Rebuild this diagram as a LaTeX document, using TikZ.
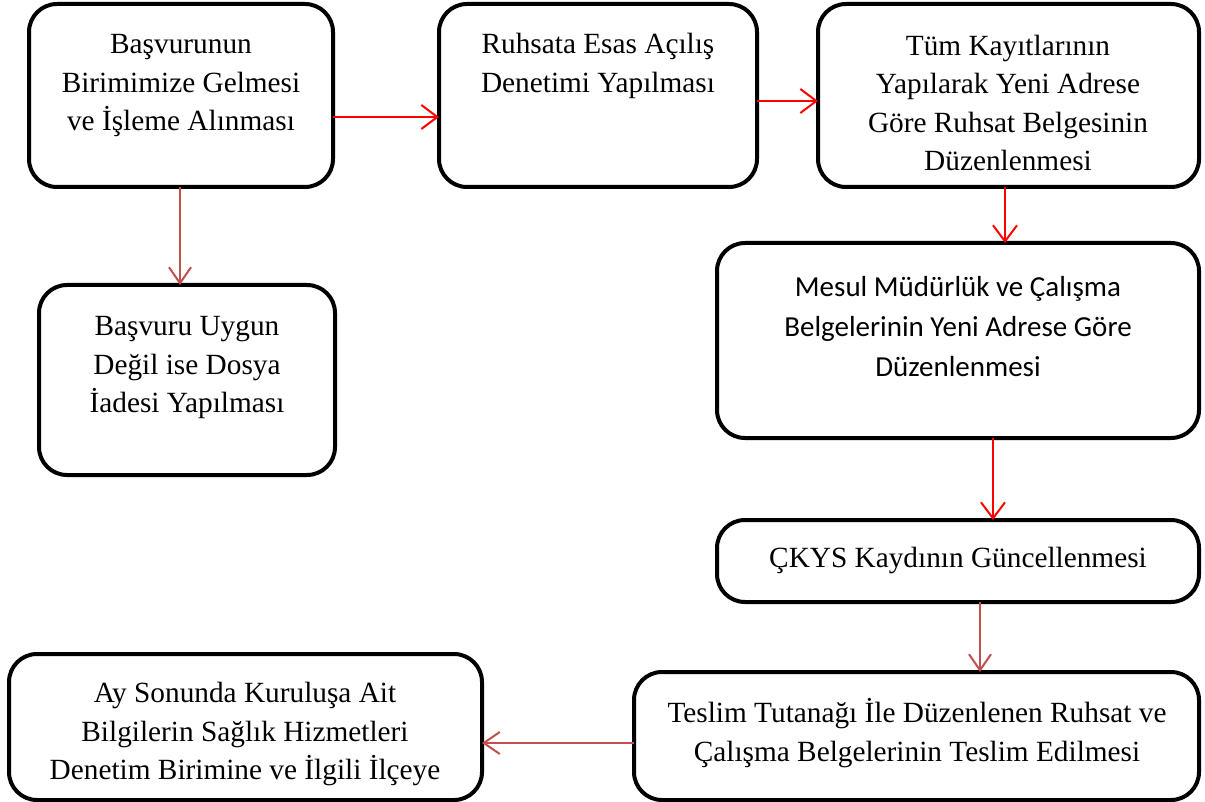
\documentclass[tikz,border=0pt]{standalone}
\usepackage{fontspec}
\setmainfont{Liberation Serif}
\newfontfamily\calibrifont{Carlito}
\usetikzlibrary{arrows.meta}
\definecolor{flowred}{HTML}{FF0000}
\definecolor{flowbrown}{HTML}{C0504D}
\tikzset{
  stepbox/.style={draw=black, line width=4pt, rounded corners=28pt, fill=white,
    inner sep=0pt, outer sep=0pt},
  steptext/.style={align=center, inner sep=0pt, font=\fontsize{29.3}{38.5}\selectfont},
  steptextsans/.style={align=center, inner sep=0pt, font=\calibrifont\fontsize{29}{40}\selectfont},
  redarrow/.style={draw=flowred, line width=2pt, -{Straight Barb[length=16pt,width=24pt,line width=2pt]}},
  brownarrow/.style={draw=flowbrown, line width=2pt, -{Straight Barb[length=16pt,width=22pt,line width=2pt]}},
}
\newcommand{\boxat}[5]{% name, x1, y1, x2, y2
  \node[stepbox, minimum width={(#4-#2)*1pt}, minimum height={(#5-#3)*1pt}]
    (#1) at ({(#2+#4)/2},{(#3+#5)/2}) {};}
\begin{document}
\begin{tikzpicture}[x=1pt, y=-1pt]
\useasboundingbox (0,0) rectangle (1205,802);

% boxes
\boxat{b1}{29}{4}{333}{187}
\boxat{b2}{439}{4}{757}{187}
\boxat{b3}{818}{4}{1199}{187}
\boxat{b4}{39}{285}{335}{475}
\boxat{b5}{717}{243}{1199}{438}
\boxat{b6}{717}{520}{1199}{602}
\boxat{b7}{634}{672}{1199}{800}
\boxat{b8}{9}{654}{482}{800}

% texts
\node[steptext] (t1) at (181,86) {Başvurunun\\Birimimize Gelmesi\\ve İşleme Alınması};
\node[steptext] (t2) at (598,66) {Ruhsata Esas Açılış\\Denetimi Yapılması};
\node[steptext] (t3) at (1008,103) {Tüm Kayıtlarının\\Yapılarak Yeni Adrese\\Göre Ruhsat Belgesinin\\Düzenlenmesi};
\node[steptext] (t4) at (187,368) {Başvuru Uygun\\Değil ise Dosya\\İadesi Yapılması};
\node[steptextsans] (t5) at (958,327) {Mesul Müdürlük ve Çalışma\\Belgelerinin Yeni Adrese Göre\\Düzenlenmesi};
\node[steptext] (t6) at (958,560) {ÇKYS Kaydının Güncellenmesi};
\node[steptext] (t7) at (917,733) {Teslim Tutanağı İle Düzenlenen Ruhsat ve\\Çalışma Belgelerinin Teslim Edilmesi};
\node[steptext] (t8) at (245,734) {Ay Sonunda Kuruluşa Ait\\Bilgilerin Sağlık Hizmetleri\\Denetim Birimine ve İlgili İlçeye};

% connectors
\draw[redarrow] (b1.east |- 0,117) -- (b2.west |- 0,117);
\draw[redarrow] (b2.east |- 0,101) -- (b3.west |- 0,101);
\draw[redarrow] (b3.south -| 1005,0) -- (b5.north -| 1005,0);
\draw[redarrow] (b5.south -| 993,0) -- (b6.north -| 993,0);
\draw[brownarrow] (b1.south -| 180,0) -- (b4.north -| 180,0);
\draw[brownarrow] (b6.south -| 980,0) -- (b7.north -| 980,0);
\draw[brownarrow] (b7.west |- 0,743) -- (b8.east |- 0,743);
\end{tikzpicture}
\end{document}
